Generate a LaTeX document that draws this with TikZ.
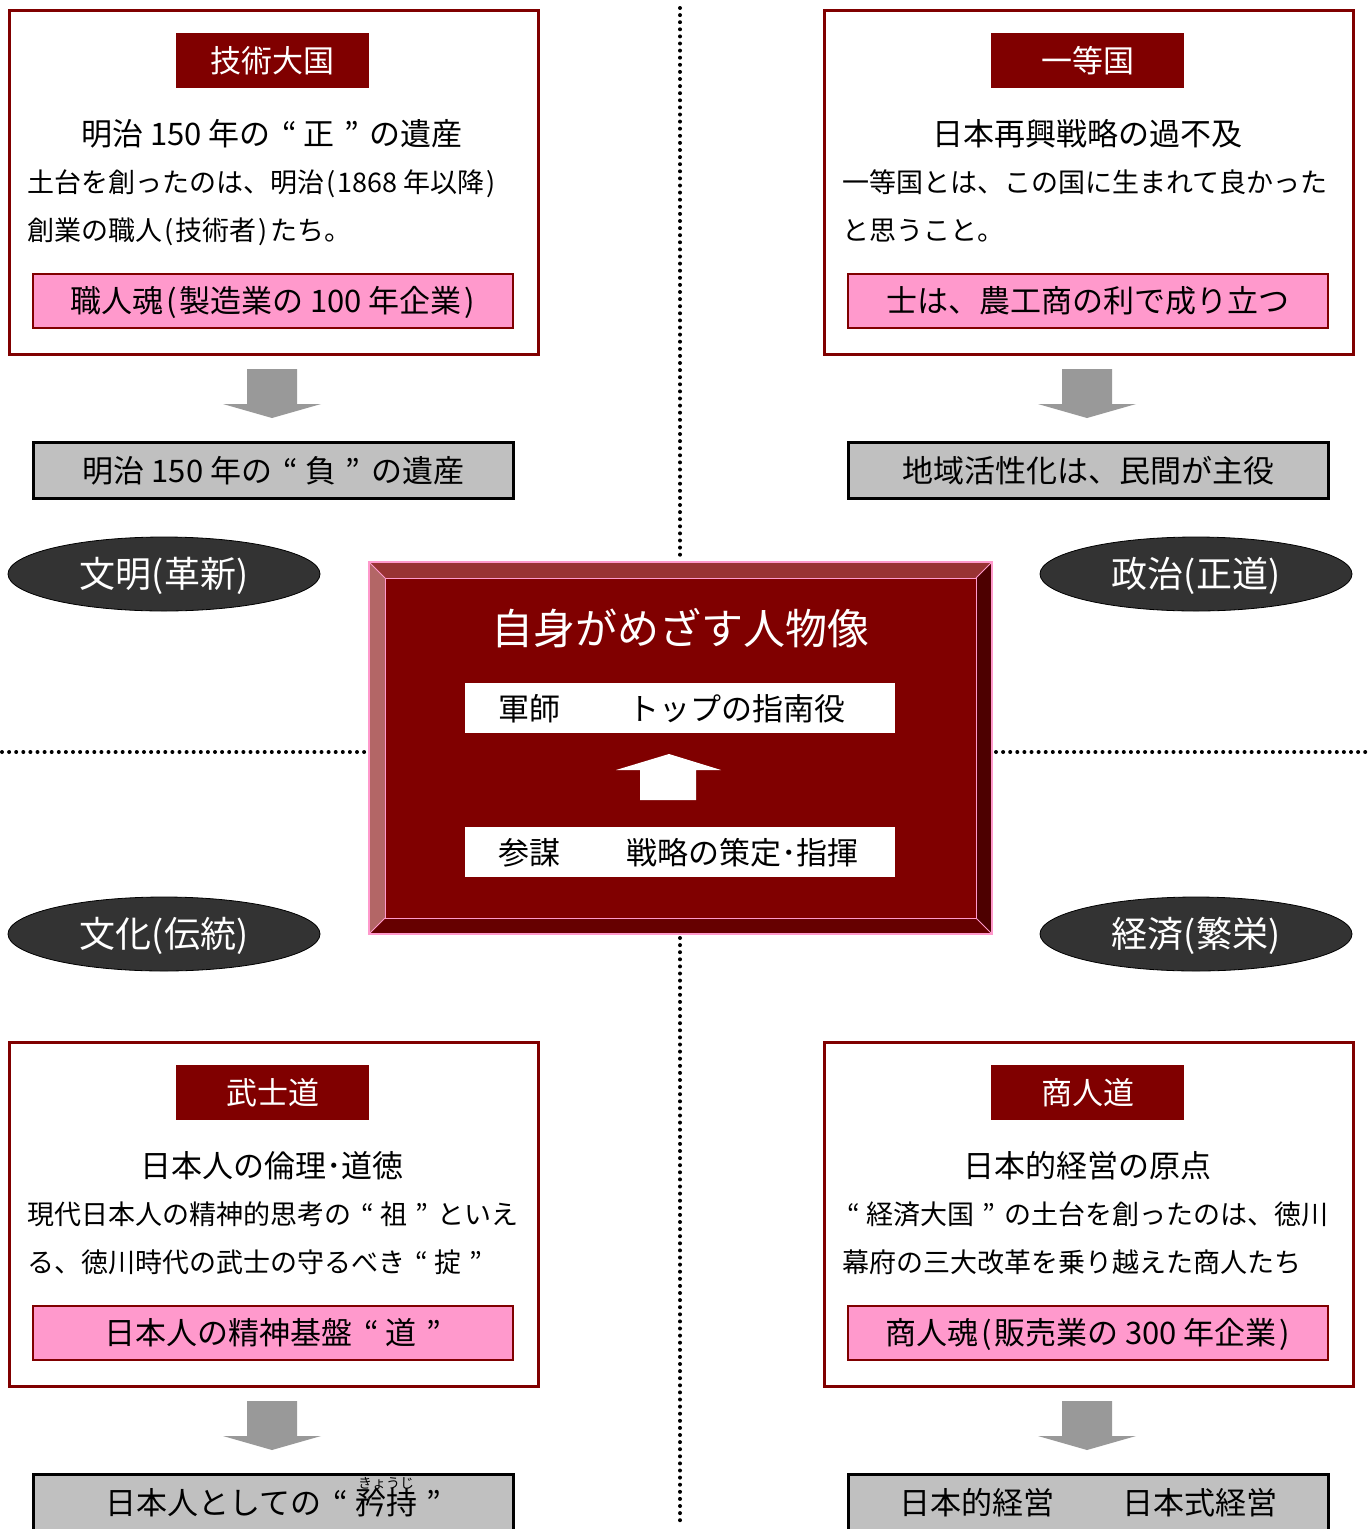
\documentclass[tikz,border=0pt]{standalone}
\usepackage{fontspec}
\setmainfont{Noto Sans CJK JP}
\usetikzlibrary{shapes.geometric}
\definecolor{dred}{HTML}{800000}
\definecolor{pinkf}{HTML}{FF99CC}
\definecolor{grayf}{HTML}{C0C0C0}
\definecolor{arrowg}{HTML}{999999}
\definecolor{ellf}{HTML}{333333}
\definecolor{bevT}{HTML}{993333}
\definecolor{bevL}{HTML}{B36666}
\definecolor{bevR}{HTML}{4D0000}
\definecolor{bevB}{HTML}{660000}
\newcommand\fs[1]{\fontsize{#1pt}{#1pt}\selectfont}
\newcommand\rubyk[2]{\leavevmode\rlap{\raisebox{0.84em}[0pt][0pt]{\makebox[2em]{\fs{14}#2}}}#1}
\newcommand\qopen{\hspace{0.38em}“\hspace{0.22em}}
\newcommand\qclose{\hspace{0.3em}”\hspace{0.35em}}
\newcommand\lpar{\hspace{0.08em}(\hspace{0.08em}}
\newcommand\rpar{\hspace{0.08em})\hspace{0.08em}}
\tikzset{
  outerbox/.style={draw=dred, line width=3pt, fill=white, anchor=north west, inner sep=0,
    minimum width=529pt, minimum height=344pt},
  titlebox/.style={fill=dred, text=white, anchor=north west, inner sep=0,
    minimum width=193pt, minimum height=55pt, font=\fs{31}, text height=26pt, text depth=2.5pt},
  pinkbox/.style={fill=pinkf, draw=dred, line width=1.5pt, anchor=north west, inner sep=0,
    minimum width=480pt, minimum height=54pt, font=\fs{31}, text height=26pt, text depth=2.5pt},
  graybox/.style={fill=grayf, draw=black, line width=3pt, anchor=north west, inner sep=0,
    minimum width=480pt, minimum height=56pt, font=\fs{31}, text height=26pt, text depth=2.5pt},
  headtxt/.style={anchor=base, inner sep=0, font=\fs{31}},
  bodytxt/.style={anchor=base west, inner sep=0, font=\fs{27}},
  oval/.style={ellipse, fill=ellf, draw=black, line width=0.8pt, minimum width=312pt,
    minimum height=74pt, inner sep=0, text=white, font=\fs{36}, text height=30pt, text depth=3pt},
  whitebox/.style={fill=white, anchor=north west, inner sep=0, minimum width=430pt, minimum height=50pt},
  whitetxt/.style={anchor=base west, inner sep=0, font=\fs{31}},
  dotline/.style={line width=4pt, line cap=round, dash pattern=on 0pt off 7.1pt},
  blockarrow/.style={fill=arrowg},
}
\newcommand\quadrant[9]{%
  \begin{scope}[shift={(#2,#3)}]
    \node[outerbox] (#1box) at (8,9) {};
    \node[titlebox] (#1title) at (176,33) {#4};
    \node[headtxt] (#1head) at (272,145) {#5};
    \node[bodytxt] (#1lineA) at (27,192) {#6};
    \node[bodytxt] (#1lineB) at (27,240) {#7};
    \node[pinkbox] (#1pink) at (32,273) {#8};
    \node[graybox] (#1gray) at (32,441) {#9};
    \fill[blockarrow] (247,369) -- (297,369) -- (297,404) -- (321,404) -- (272,418)
      -- (223,404) -- (247,404) -- cycle;
  \end{scope}}
\begin{document}
\begin{tikzpicture}[x=1pt,y=-1pt]
\useasboundingbox[fill=white] (0,0) rectangle (1372,1529);
% dotted axes
\coordinate (vt) at (680,8);
\coordinate (vb1) at (680,558);
\coordinate (vt2) at (680,938);
\coordinate (vb) at (680,1527);
\coordinate (hl) at (2,752);
\coordinate (hr1) at (366,752);
\coordinate (hl2) at (996,752);
\coordinate (hr) at (1372,752);
\draw[dotline] (vt) -- (vb1);
\draw[dotline] (vt2) -- (vb);
\draw[dotline] (hl) -- (hr1);
\draw[dotline] (hl2) -- (hr);

\quadrant{tl}{0}{0}{技術大国}{明治 150 年の\qopen 正\qclose の遺産}{土台を創ったのは、明治\lpar 1868 年以降\rpar}{創業の職人\lpar 技術者\rpar たち。}{職人魂\lpar 製造業の 100 年企業\rpar}{明治 150 年の\qopen 負\qclose の遺産}
\quadrant{tr}{815}{0}{一等国}{日本再興戦略の過不及}{一等国とは、この国に生まれて良かった}{と思うこと。}{士は、農工商の利で成り立つ}{地域活性化は、民間が主役}
\quadrant{bl}{0}{1032}{武士道}{日本人の倫理･道徳}{現代日本人の精神的思考の\qopen 祖\qclose といえ}{る、徳川時代の武士の守るべき\qopen 掟\qclose}{日本人の精神基盤\qopen 道\qclose}{日本人としての\qopen\rubyk{矜持}{きょうじ}\qclose}
\quadrant{br}{815}{1032}{商人道}{日本的経営の原点}{\hspace{0.2em}“\hspace{0.22em}経済大国\qclose の土台を創ったのは、徳川}{幕府の三大改革を乗り越えた商人たち}{商人魂\lpar 販売業の 300 年企業\rpar}{日本的経営\hspace{69pt}日本式経営}

% ovals
\node[oval] (bunmei) at (164,574) {文明(革新)};
\node[oval] (seiji) at (1196,574) {政治(正道)};
\node[oval] (bunka) at (164,934) {文化(伝統)};
\node[oval] (keizai) at (1196,934) {経済(繁栄)};

% central bevelled box
\coordinate (o1) at (369,562); \coordinate (o2) at (992,562);
\coordinate (o3) at (992,934); \coordinate (o4) at (369,934);
\coordinate (i1) at (385,578); \coordinate (i2) at (976,578);
\coordinate (i3) at (976,918); \coordinate (i4) at (385,918);
\fill[bevT] (o1) -- (o2) -- (i2) -- (i1) -- cycle;
\fill[bevR] (o2) -- (o3) -- (i3) -- (i2) -- cycle;
\fill[bevB] (o3) -- (o4) -- (i4) -- (i3) -- cycle;
\fill[bevL] (o4) -- (o1) -- (i1) -- (i4) -- cycle;
\fill[dred] (i1) rectangle (i3);
\draw[pinkf, line width=1.5pt] (o1) rectangle (o3);
\draw[pinkf, line width=1pt] (i1) rectangle (i3);
\draw[pinkf, line width=1pt] (o1) -- (i1) (o2) -- (i2) (o3) -- (i3) (o4) -- (i4);

\node[anchor=base, inner sep=0, text=white, font=\fs{42}] (ctitle) at (680,644) {自身がめざす人物像};
\node[whitebox] (gunshi) at (465,683) {};
\node[whitetxt] (gunshiA) at (498,720) {軍師};
\node[whitetxt] (gunshiB) at (628,720) {トップの指南役};
\node[whitebox] (sanbou) at (465,827) {};
\node[whitetxt] (sanbouA) at (498,864) {参謀};
\node[whitetxt] (sanbouB) at (626,864) {戦略の策定･指揮};
\fill[white] (640,800) -- (696,800) -- (696,770) -- (721,770) -- (669,754) -- (616,770)
  -- (640,770) -- cycle;
\end{tikzpicture}
\end{document}
